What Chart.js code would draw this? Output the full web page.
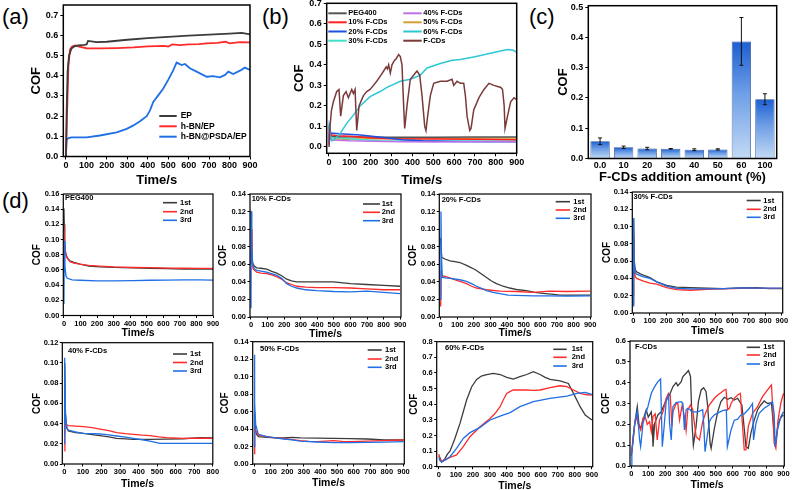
<!DOCTYPE html>
<html><head><meta charset="utf-8">
<script src="https://cdn.jsdelivr.net/npm/chart.js@4.4.1/dist/chart.umd.min.js"></script>
<style>
html,body{margin:0;padding:0;background:#fff;}
body{width:793px;height:490px;position:relative;overflow:hidden;font-family:'Liberation Sans',Arial,sans-serif;}
canvas{position:absolute;}
.lab{position:absolute;font-size:22px;line-height:22px;color:#000;font-family:'Liberation Sans',Arial,sans-serif;}
</style></head>
<body>
<div class="lab" style="left:2px;top:6px">(a)</div>
<div class="lab" style="left:262px;top:6px">(b)</div>
<div class="lab" style="left:529px;top:6px">(c)</div>
<div class="lab" style="left:2px;top:190px">(d)</div>
<script>
// ---------------- DATA ----------------
// tick values
const t_time900 = [0,100,200,300,400,500,600,700,800,900];
const t_time800 = [0,100,200,300,400,500,600,700,800];
const t_cof07 = [0,0.1,0.2,0.3,0.4,0.5,0.6,0.7];
const t_cof05 = [0,0.1,0.2,0.3,0.4,0.5];
const t_cof016 = [0,0.02,0.04,0.06,0.08,0.10,0.12,0.14,0.16];
const t_cof014 = [0,0.02,0.04,0.06,0.08,0.10,0.12,0.14];
const t_cof012 = [0,0.02,0.04,0.06,0.08,0.10,0.12];
const t_cof08 = [0,0.1,0.2,0.3,0.4,0.5,0.6,0.7,0.8];
const t_cof06 = [0,0.1,0.2,0.3,0.4,0.5,0.6];

// (a)  [time s, COF]
const a_EP = [[0,0],[3,0.2],[8,0.42],[15,0.5],[27,0.535],[40,0.545],[60,0.55],[90,0.553],[101,0.555],[108,0.572],[150,0.566],[200,0.568],[300,0.578],[400,0.586],[500,0.592],[600,0.598],[700,0.603],[800,0.608],[860,0.612],[900,0.605]];
const a_hBN = [[0,0],[5,0.2],[12,0.45],[20,0.53],[30,0.545],[45,0.55],[60,0.545],[100,0.536],[166,0.535],[250,0.537],[330,0.54],[400,0.545],[480,0.548],[500,0.544],[520,0.555],[558,0.551],[600,0.555],[650,0.556],[688,0.56],[740,0.562],[780,0.568],[800,0.56],[850,0.566],[900,0.565]];
const a_hBNPSDA = [[0,0],[3,0.08],[10,0.09],[27,0.095],[101,0.095],[166,0.104],[248,0.12],[297,0.137],[330,0.154],[362,0.175],[395,0.2],[411,0.228],[427,0.27],[452,0.304],[476,0.337],[500,0.379],[525,0.428],[541,0.465],[566,0.453],[582,0.458],[606,0.437],[639,0.42],[688,0.395],[720,0.398],[753,0.392],[778,0.404],[794,0.42],[818,0.408],[851,0.425],[875,0.44],[900,0.428]];

// (b)
const b_PEG400 = [[0,0.10],[5,0.07],[15,0.052],[50,0.05],[150,0.048],[300,0.047],[500,0.047],[700,0.048],[900,0.048]];
const b_10 = [[0,0.04],[3,0.08],[10,0.06],[40,0.055],[100,0.052],[150,0.048],[230,0.042],[300,0.04],[500,0.039],[700,0.037],[900,0.035]];
const b_20 = [[0,0.02],[2,0.1],[8,0.068],[50,0.064],[150,0.058],[250,0.047],[350,0.035],[450,0.03],[600,0.027],[750,0.025],[900,0.025]];
const b_30 = [[0,0.01],[2,0.11],[10,0.048],[60,0.044],[140,0.036],[250,0.03],[400,0.028],[600,0.029],[900,0.029]];
const b_40 = [[0,0.015],[2,0.1],[10,0.034],[100,0.03],[200,0.028],[350,0.025],[500,0.024],[650,0.025],[800,0.026],[900,0.025]];
const b_50 = [[0,0.012],[2,0.06],[10,0.04],[80,0.038],[200,0.04],[400,0.041],[600,0.042],[800,0.043],[900,0.043]];
const b_60 = [[0,0.107],[5,0.06],[13,0.03],[30,0.04],[53,0.065],[85,0.115],[117,0.155],[149,0.2],[197,0.245],[245,0.27],[278,0.29],[342,0.32],[390,0.33],[438,0.35],[470,0.385],[530,0.405],[590,0.422],[630,0.426],[700,0.44],[790,0.46],[855,0.475],[880,0.472],[900,0.462]];
const b_FCD = [[0,0.0],[5,0.1],[12,0.18],[21,0.22],[37,0.27],[48,0.28],[56,0.15],[69,0.25],[82,0.27],[93,0.24],[109,0.28],[117,0.26],[125,0.28],[133,0.08],[144,0.2],[165,0.25],[181,0.27],[197,0.28],[213,0.30],[229,0.32],[249,0.35],[262,0.37],[274,0.39],[280,0.38],[286,0.40],[294,0.36],[302,0.40],[313,0.42],[322,0.43],[334,0.45],[342,0.44],[350,0.40],[358,0.2],[363,0.09],[374,0.2],[390,0.33],[414,0.36],[422,0.37],[435,0.35],[446,0.25],[459,0.1],[465,0.08],[473,0.15],[486,0.25],[502,0.31],[534,0.32],[566,0.32],[590,0.33],[598,0.30],[614,0.32],[630,0.31],[646,0.31],[654,0.25],[662,0.15],[675,0.08],[681,0.09],[694,0.18],[719,0.24],[743,0.28],[767,0.31],[791,0.30],[824,0.29],[832,0.28],[840,0.2],[844,0.09],[856,0.15],[871,0.22],[887,0.24],[900,0.23]];

// (c)
const c_labels = ['0.0','10','20','30','40','50','60','100'];
const c_values = [0.057,0.037,0.033,0.032,0.029,0.030,0.387,0.196];
const c_errors = [0.011,0.004,0.004,0.001,0.003,0.002,0.079,0.018];

// (d) runs 1st / 2nd / 3rd
const d_PEG400_1 = [[0,0.141],[2,0.12],[5,0.095],[10,0.082],[20,0.076],[36,0.072],[60,0.07],[97,0.0676],[150,0.065],[217,0.064],[300,0.0635],[418,0.0627],[520,0.0622],[620,0.0619],[720,0.0612],[821,0.061],[900,0.061]];
const d_PEG400_2 = [[0,0.119],[3,0.1],[8,0.085],[15,0.077],[36,0.0707],[60,0.069],[97,0.0676],[150,0.066],[217,0.065],[300,0.064],[418,0.0632],[520,0.063],[620,0.0625],[720,0.0622],[821,0.062],[900,0.062]];
const d_PEG400_3 = [[0,0.015],[2,0.098],[6,0.065],[12,0.052],[20,0.049],[50,0.047],[97,0.0464],[200,0.0455],[300,0.0455],[418,0.046],[520,0.0464],[620,0.0465],[720,0.047],[821,0.047],[900,0.0465]];

const d_10_1 = [[0,0.121],[3,0.09],[8,0.062],[20,0.058],[34,0.056],[60,0.0555],[95,0.0545],[125,0.052],[155,0.05],[185,0.047],[215,0.043],[245,0.041],[276,0.04],[350,0.04],[420,0.04],[497,0.04],[600,0.038],[698,0.037],[800,0.036],[900,0.035]];
const d_10_2 = [[0,0.06],[3,0.1],[6,0.07],[12,0.055],[34,0.051],[60,0.05],[95,0.0495],[125,0.048],[155,0.046],[185,0.043],[215,0.039],[245,0.037],[276,0.035],[330,0.034],[397,0.0335],[500,0.0335],[600,0.033],[700,0.032],[800,0.031],[900,0.031]];
const d_10_3 = [[0,0.01],[2,0.12],[5,0.08],[10,0.06],[20,0.055],[34,0.053],[95,0.051],[155,0.0475],[185,0.044],[215,0.038],[245,0.035],[276,0.033],[330,0.031],[397,0.03],[500,0.029],[600,0.0285],[700,0.0295],[800,0.028],[900,0.0267]];

const d_20_1 = [[0,0.09],[4,0.072],[6,0.068],[26,0.066],[56,0.064],[86,0.063],[116,0.062],[156,0.0587],[186,0.056],[216,0.053],[246,0.049],[276,0.045],[306,0.041],[336,0.038],[376,0.035],[416,0.033],[466,0.031],[516,0.03],[566,0.028],[616,0.027],[666,0.026],[716,0.025],[800,0.025],[900,0.025]];
const d_20_2 = [[0,0.012],[3,0.05],[10,0.047],[56,0.0445],[96,0.0417],[126,0.04],[156,0.038],[186,0.035],[216,0.033],[246,0.032],[276,0.031],[356,0.0295],[456,0.029],[556,0.028],[656,0.0295],[756,0.029],[900,0.0295]];
const d_20_3 = [[0,0.02],[2,0.12],[5,0.07],[10,0.045],[30,0.0445],[56,0.044],[116,0.0424],[156,0.0405],[186,0.038],[216,0.035],[246,0.0325],[276,0.03],[316,0.028],[356,0.0265],[406,0.025],[456,0.0246],[556,0.024],[656,0.024],[756,0.0238],[900,0.024]];

const d_30_1 = [[0,0.01],[2,0.11],[6,0.06],[12,0.05],[20,0.0476],[40,0.0455],[61,0.0437],[101,0.041],[142,0.036],[172,0.034],[202,0.032],[260,0.03],[344,0.0294],[446,0.0288],[546,0.0283],[650,0.029],[748,0.0294],[820,0.0283],[900,0.0283]];
const d_30_2 = [[0,0.02],[2,0.09],[6,0.05],[12,0.042],[20,0.04],[61,0.0368],[101,0.0345],[142,0.0333],[202,0.0294],[263,0.027],[344,0.0263],[446,0.0275],[546,0.028],[650,0.0286],[748,0.0286],[900,0.0286]];
const d_30_3 = [[0,0.008],[2,0.11],[6,0.055],[12,0.047],[20,0.045],[61,0.0418],[101,0.04],[142,0.036],[202,0.031],[263,0.0286],[344,0.028],[446,0.028],[546,0.0283],[650,0.029],[748,0.0288],[900,0.0288]];

const d_40_1 = [[0,0.03],[2,0.1],[6,0.05],[12,0.036],[21,0.0326],[60,0.031],[102,0.0303],[150,0.029],[192,0.028],[240,0.0268],[282,0.0254],[330,0.0248],[372,0.0244],[461,0.0244],[551,0.0247],[641,0.025],[731,0.026],[800,0.0257]];
const d_40_2 = [[0,0.013],[3,0.035],[6,0.042],[12,0.039],[21,0.038],[60,0.0375],[102,0.037],[150,0.036],[192,0.0346],[240,0.033],[282,0.031],[330,0.03],[372,0.0293],[420,0.0285],[461,0.028],[510,0.0268],[551,0.026],[641,0.0254],[731,0.0256],[800,0.0254]];
const d_40_3 = [[0,0.02],[2,0.105],[6,0.05],[12,0.037],[21,0.0336],[60,0.0318],[102,0.0303],[150,0.03],[192,0.0297],[240,0.0288],[282,0.0277],[330,0.0265],[372,0.0254],[420,0.024],[461,0.0227],[515,0.0204],[600,0.0204],[700,0.0204],[800,0.0204]];

const d_50_1 = [[0,0.02],[3,0.06],[8,0.04],[15,0.034],[26,0.0313],[77,0.0305],[130,0.03],[178,0.03],[230,0.0305],[278,0.03],[380,0.0297],[480,0.0294],[580,0.029],[682,0.0286],[783,0.0275],[900,0.0275]];
const d_50_2 = [[0,0.012],[4,0.042],[10,0.038],[26,0.033],[77,0.0313],[130,0.03],[178,0.0294],[230,0.028],[278,0.0267],[330,0.026],[380,0.0256],[430,0.0262],[480,0.0267],[530,0.026],[581,0.0256],[682,0.0263],[783,0.0267],[900,0.0275]];
const d_50_3 = [[0,0.02],[2,0.125],[5,0.07],[10,0.045],[26,0.034],[77,0.0313],[130,0.03],[178,0.0286],[230,0.0275],[278,0.0263],[380,0.0252],[480,0.0244],[580,0.0244],[682,0.0248],[783,0.025],[900,0.0256]];

const d_60_1 = [[0,0.07],[5,0.06],[16,0.03],[35,0.05],[50,0.08],[65,0.1],[80,0.14],[94,0.181],[124,0.277],[143,0.35],[163,0.427],[193,0.512],[222,0.559],[250,0.58],[281,0.59],[320,0.597],[360,0.59],[399,0.572],[438,0.561],[477,0.576],[517,0.59],[556,0.608],[595,0.59],[625,0.572],[654,0.559],[713,0.55],[762,0.533],[792,0.469],[831,0.384],[861,0.33],[900,0.299]];
const d_60_2 = [[0,0.08],[5,0.05],[16,0.035],[40,0.045],[65,0.06],[104,0.075],[143,0.128],[183,0.192],[242,0.256],[301,0.309],[330,0.34],[360,0.384],[380,0.43],[399,0.469],[420,0.482],[438,0.491],[517,0.491],[556,0.488],[595,0.491],[654,0.506],[713,0.518],[753,0.512],[792,0.491],[831,0.469],[861,0.462],[900,0.458]];
const d_60_3 = [[0,0.06],[5,0.04],[16,0.03],[40,0.045],[65,0.064],[104,0.117],[143,0.181],[183,0.218],[242,0.252],[301,0.299],[360,0.324],[419,0.346],[477,0.384],[556,0.416],[654,0.437],[753,0.452],[812,0.469],[861,0.476],[900,0.463]];

const d_FCD_1 = [[0,0.05],[10,0.12],[20,0.205],[35,0.285],[45,0.2],[55,0.18],[69,0.22],[88,0.27],[100,0.235],[118,0.26],[124,0.2],[128,0.093],[138,0.205],[157,0.245],[177,0.26],[206,0.317],[226,0.341],[246,0.381],[265,0.4],[275,0.385],[295,0.405],[305,0.429],[324,0.445],[338,0.458],[350,0.43],[360,0.19],[367,0.1],[383,0.19],[397,0.31],[413,0.365],[428,0.376],[442,0.357],[452,0.285],[466,0.109],[472,0.085],[491,0.18],[511,0.26],[530,0.309],[550,0.33],[570,0.32],[590,0.328],[609,0.317],[629,0.325],[648,0.3],[654,0.293],[668,0.18],[678,0.093],[692,0.085],[707,0.157],[727,0.22],[747,0.27],[766,0.293],[786,0.312],[806,0.3],[829,0.304],[841,0.19],[849,0.125],[855,0.117],[868,0.205],[888,0.237],[900,0.245]];
const d_FCD_2 = [[0,0.06],[10,0.12],[20,0.205],[29,0.237],[39,0.205],[55,0.173],[69,0.229],[83,0.234],[94,0.2],[108,0.213],[118,0.165],[128,0.237],[141,0.25],[153,0.125],[167,0.22],[187,0.26],[206,0.325],[220,0.349],[230,0.341],[240,0.19],[246,0.26],[265,0.3],[275,0.3],[285,0.22],[301,0.293],[314,0.237],[324,0.17],[334,0.27],[350,0.293],[363,0.27],[383,0.141],[403,0.125],[422,0.213],[442,0.26],[462,0.293],[491,0.325],[511,0.341],[530,0.352],[550,0.365],[560,0.368],[570,0.27],[580,0.277],[590,0.3],[609,0.325],[629,0.341],[645,0.349],[654,0.237],[668,0.077],[678,0.077],[692,0.19],[717,0.253],[747,0.285],[776,0.333],[806,0.365],[829,0.389],[837,0.27],[845,0.109],[855,0.085],[868,0.22],[884,0.3],[900,0.349]];
const d_FCD_3 = [[0,0.0],[3,0.06],[10,0.141],[24,0.22],[35,0.26],[49,0.125],[55,0.093],[69,0.205],[88,0.26],[98,0.285],[118,0.349],[138,0.381],[157,0.405],[173,0.418],[183,0.093],[193,0.18],[206,0.309],[220,0.341],[226,0.205],[236,0.125],[246,0.285],[265,0.304],[295,0.309],[305,0.3],[314,0.173],[324,0.27],[334,0.277],[348,0.27],[358,0.26],[393,0.26],[422,0.27],[428,0.205],[436,0.069],[446,0.125],[462,0.213],[472,0.229],[491,0.245],[501,0.25],[540,0.266],[562,0.27],[568,0.093],[590,0.173],[609,0.22],[629,0.225],[648,0.245],[668,0.25],[698,0.277],[717,0.3],[723,0.125],[737,0.205],[756,0.253],[786,0.277],[815,0.293],[835,0.309],[845,0.25],[851,0.093],[865,0.173],[884,0.237],[900,0.26]];

// ---------------- RENDERING ----------------
const FONT = "'Liberation Sans', Arial, Helvetica, sans-serif";
Chart.defaults.font.family = FONT;
Chart.defaults.color = '#000';
Chart.defaults.animation = false;

const GRAY = '#3c3c3c', RED = '#ff2b2b', BLUE = '#1f6fe5';

function place(box) {
  const padT = box.padT ?? 8, padR = box.padR ?? 12;
  const left = Math.round(box.L - box.W), top = Math.round(box.T - padT);
  const Wp = box.L - left, padTp = box.T - top;
  const width = Math.ceil(Wp + (box.R - box.L) + padR);
  const height = Math.ceil(padTp + (box.B - box.T) + box.H);
  const Hp = height - padTp - (box.B - box.T);
  const padRp = width - Wp - (box.R - box.L);
  const c = document.createElement('canvas');
  c.width = width; c.height = height;
  c.style.left = left + 'px'; c.style.top = top + 'px';
  c.style.width = width + 'px'; c.style.height = height + 'px';
  document.body.appendChild(c);
  return {c, left, top, Wp, Hp, padTp, padRp};
}

function framePlugin(g, lw, texts, key, keyFont, keyLw) {
  return {
    id: 'frameKey',
    afterDatasetsDraw(chart) {
      const ctx = chart.ctx, a = chart.chartArea;
      ctx.save();
      ctx.textBaseline = 'middle'; ctx.textAlign = 'left'; ctx.fillStyle = '#000';
      (texts || []).forEach(t => {
        ctx.font = `bold ${t.size}px ${FONT}`;
        ctx.fillText(t.text, t.x - g.left, t.y - g.top);
      });
      (key || []).forEach(k => {
        const ds = chart.data.datasets[k.i];
        ctx.strokeStyle = ds.borderColor; ctx.lineWidth = keyLw;
        ctx.beginPath(); ctx.moveTo(k.x1 - g.left, k.y - g.top); ctx.lineTo(k.x2 - g.left, k.y - g.top); ctx.stroke();
        ctx.font = `bold ${keyFont}px ${FONT}`; ctx.fillStyle = '#000';
        ctx.fillText(ds.label, k.tx - g.left, k.y - g.top);
      });
      ctx.lineWidth = lw; ctx.strokeStyle = '#000';
      ctx.strokeRect(a.left, a.top, a.right - a.left, a.bottom - a.top);
      ctx.restore();
    }
  };
}

function linPanel(s) {
  const g = place(s.box);
  const datasets = s.series.map((se, i) => ({
    label: se.label, data: se.data, borderColor: se.color, backgroundColor: se.color,
    borderWidth: s.lw, pointRadius: 0, tension: 0, fill: false, order: se.order ?? i
  }));
  new Chart(g.c, {
    type: 'line',
    data: {datasets},
    options: {
      responsive: false, animation: false, devicePixelRatio: 1,
      layout: {padding: {top: g.padTp, right: g.padRp, left: 0, bottom: 0}},
      plugins: {legend: {display: false}, tooltip: {enabled: false}},
      scales: {
        x: {
          type: 'linear', min: s.x[0], max: s.x[1],
          ticks: {autoSkip: false, maxRotation: 0, padding: s.tpad ?? 1,
                  font: {size: s.tick, weight: 'bold'}, color: '#000', callback: v => String(Math.round(v))},
          grid: {display: true, drawOnChartArea: false, drawTicks: true, tickLength: s.tl, color: '#000', lineWidth: 1},
          border: {display: false},
          title: {display: true, text: 'Time/s', font: {size: s.xt, weight: 'bold'}, color: '#000', padding: 0},
          afterBuildTicks: sc => { sc.ticks = s.xticks.map(v => ({value: v})); },
          afterFit: sc => { sc.height = g.Hp; }
        },
        y: {
          type: 'linear', min: s.y[0], max: s.y[1],
          ticks: {autoSkip: false, padding: s.tpadY ?? 1.5,
                  font: {size: s.tick, weight: 'bold'}, color: '#000', callback: v => v.toFixed(s.y[2])},
          grid: {display: true, drawOnChartArea: false, drawTicks: true, tickLength: s.tl, color: '#000', lineWidth: 1},
          border: {display: false},
          title: {display: true, text: 'COF', font: {size: s.yt, weight: 'bold'}, color: '#000', padding: 0},
          afterBuildTicks: sc => { sc.ticks = s.yticks.map(v => ({value: v})); },
          afterFit: sc => { sc.width = g.Wp; }
        }
      }
    },
    plugins: [framePlugin(g, s.frame, s.texts, s.key, s.keyFont, s.keyLw)]
  });
}

// (a)
linPanel({
  box: {L: 63.3, T: 5, R: 250, B: 156.5, W: 34.4, H: 31},
  x: [-13, 900], xticks: t_time900, y: [0, 0.75, 1], yticks: t_cof07,
  tick: 9, tl: 3, tpad: 1, tpadY: 2, xt: 13, yt: 13, lw: 1.8, frame: 1.5,
  series: [
    {label: 'EP', data: a_EP, color: GRAY},
    {label: 'h-BN/EP', data: a_hBN, color: RED},
    {label: 'h-BN@PSDA/EP', data: a_hBNPSDA, color: BLUE}
  ],
  key: [{i: 0, x1: 159.3, x2: 176.7, tx: 180.7, y: 116}, {i: 1, x1: 159.3, x2: 176.7, tx: 180.7, y: 126.3}, {i: 2, x1: 159.3, x2: 176.7, tx: 180.7, y: 136.7}],
  keyFont: 8.5, keyLw: 2
});

// (b)
const bx1 = [328.3, 346.7, 348.3], bx2 = [403.3, 421.7, 423.3], by = [13.3, 22.3, 31.5, 40.7];
linPanel({
  box: {L: 326.7, T: 3.3, R: 516.7, B: 153.3, W: 34.5, H: 34.5},
  x: [-11, 900], xticks: t_time900, y: [-0.031, 0.7, 1], yticks: t_cof07,
  tick: 9, tl: 3, tpad: 1, tpadY: 2, xt: 13, yt: 13, lw: 1.5, frame: 1.5,
  series: [
    {label: 'PEG400', data: b_PEG400, color: '#555555', order: 5},
    {label: '10% F-CDs', data: b_10, color: '#ff2020', order: 4},
    {label: '20% F-CDs', data: b_20, color: '#2050e0', order: 3},
    {label: '30% F-CDs', data: b_30, color: '#40e0c8', order: 6},
    {label: '40% F-CDs', data: b_40, color: '#c070e8', order: 2},
    {label: '50% F-CDs', data: b_50, color: '#d0a030', order: 7},
    {label: '60% F-CDs', data: b_60, color: '#2cc8d4', order: 1},
    {label: 'F-CDs', data: b_FCD, color: '#7a3a3a', order: 0}
  ],
  key: [0,1,2,3].map(r => ({i: r, x1: bx1[0], x2: bx1[1], tx: bx1[2], y: by[r]}))
       .concat([0,1,2,3].map(r => ({i: r + 4, x1: bx2[0], x2: bx2[1], tx: bx2[2], y: by[r]}))),
  keyFont: 7.5, keyLw: 2
});

// (c)
(function () {
  const g = place({L: 588.3, T: 5.7, R: 776.7, B: 158.5, W: 32.8, H: 26.2});
  const errPlugin = {
    id: 'errbars',
    afterDatasetsDraw(chart) {
      const ctx = chart.ctx, ys = chart.scales.y, meta = chart.getDatasetMeta(0);
      ctx.save(); ctx.strokeStyle = '#111'; ctx.lineWidth = 1;
      meta.data.forEach((el, i) => {
        const x = el.x, t = ys.getPixelForValue(c_values[i] + c_errors[i]), b = ys.getPixelForValue(c_values[i] - c_errors[i]);
        ctx.beginPath();
        ctx.moveTo(x, t); ctx.lineTo(x, b);
        ctx.moveTo(x - 2, t); ctx.lineTo(x + 2, t);
        ctx.moveTo(x - 2, b); ctx.lineTo(x + 2, b);
        ctx.stroke();
      });
      ctx.restore();
    }
  };
  new Chart(g.c, {
    type: 'bar',
    data: {labels: c_labels, datasets: [{
      data: c_values, borderColor: '#2b4f8f', borderWidth: 0.8, barPercentage: 0.82, categoryPercentage: 1,
      backgroundColor: (ctx) => {
        const ch = ctx.chart, ys = ch.scales && ch.scales.y;
        if (!ys || ctx.type !== 'data' || !ch.chartArea) return '#4a80dd';
        const top = ys.getPixelForValue(ctx.parsed.y), bot = ys.getPixelForValue(0);
        if (!isFinite(top) || !isFinite(bot) || bot - top < 1) return '#4a80dd';
        const gr = ch.ctx.createLinearGradient(0, top, 0, bot);
        gr.addColorStop(0, '#1c5fd2'); gr.addColorStop(0.45, '#6f9fe6'); gr.addColorStop(1, '#c3daf5');
        return gr;
      }
    }]},
    options: {
      responsive: false, animation: false, devicePixelRatio: 1,
      layout: {padding: {top: g.padTp, right: g.padRp, left: 0, bottom: 0}},
      plugins: {legend: {display: false}, tooltip: {enabled: false}},
      scales: {
        x: {
          type: 'category', offset: true,
          ticks: {autoSkip: false, maxRotation: 0, padding: 1.5, font: {size: 9, weight: 'bold'}, color: '#000'},
          grid: {display: false, drawTicks: false, tickLength: 0}, border: {display: false},
          title: {display: true, text: 'F-CDs addition amount (%)', font: {size: 13, weight: 'bold'}, color: '#000', padding: 0},
          afterFit: sc => { sc.height = g.Hp; }
        },
        y: {
          type: 'linear', min: 0, max: 0.505,
          ticks: {padding: 2, font: {size: 9, weight: 'bold'}, color: '#000', callback: v => v.toFixed(1)},
          grid: {display: true, drawOnChartArea: false, drawTicks: true, tickLength: 3, color: '#000'},
          border: {display: false},
          title: {display: true, text: 'COF', font: {size: 13, weight: 'bold'}, color: '#000', padding: 0},
          afterBuildTicks: sc => { sc.ticks = t_cof05.map(v => ({value: v})); },
          afterFit: sc => { sc.width = g.Wp; }
        }
      }
    },
    plugins: [framePlugin(g, 1.5, [], [], 8, 1), errPlugin]
  });
})();

// (d) small panels
function dPanel(box, xr, xt, yr, yt, runs, title, tpos, kx, ky) {
  linPanel({
    box, x: xr, xticks: xt, y: yr, yticks: yt,
    tick: 7.5, tl: 2.5, tpad: 1, tpadY: 1.5, xt: 10.5, yt: 10, lw: 1.3, frame: 1.2,
    series: [
      {label: '1st', data: runs[0], color: GRAY, order: 3},
      {label: '2nd', data: runs[1], color: RED, order: 2},
      {label: '3rd', data: runs[2], color: BLUE, order: 1}
    ],
    texts: [{text: title, x: tpos[0], y: tpos[1], size: 7.5}],
    key: ky.map((y, i) => ({i, x1: kx[0], x2: kx[1], tx: kx[2], y})),
    keyFont: 7.5, keyLw: 1.6
  });
}

dPanel({L: 63.3, T: 194, R: 213, B: 315.5, W: 32.6, H: 23.5}, [-4, 900], t_time900, [0, 0.16, 2], t_cof016,
  [d_PEG400_1, d_PEG400_2, d_PEG400_3], 'PEG400', [65, 197.5], [163, 177, 180], [202.7, 211.7, 220.3]);
dPanel({L: 250, T: 194, R: 401, B: 317, W: 33.3, H: 22.9}, [-6, 905], t_time900, [0, 0.14, 2], t_cof014,
  [d_10_1, d_10_2, d_10_3], '10% F-CDs', [251.7, 199], [363, 380, 381.7], [204, 212.3, 220.7]);
dPanel({L: 439.3, T: 194, R: 591, B: 317, W: 32, H: 21.3}, [-8, 905], t_time900, [0, 0.14, 2], t_cof014,
  [d_20_1, d_20_2, d_20_3], '20% F-CDs', [441.7, 200], [555.7, 570, 573.3], [201.7, 210, 218.3]);
dPanel({L: 632.3, T: 192, R: 782.7, B: 313, W: 31.6, H: 23.6}, [-6, 905], t_time900, [0, 0.14, 2], t_cof014,
  [d_30_1, d_30_2, d_30_3], '30% F-CDs', [633.5, 197], [746.7, 760.7, 763.3], [200.5, 209.3, 217.3]);

dPanel({L: 62.3, T: 342.7, R: 212.8, B: 464, W: 31, H: 25.9}, [-11, 800], t_time800, [0, 0.12, 2], t_cof012,
  [d_40_1, d_40_2, d_40_3], '40% F-CDs', [68, 350.7], [173, 187, 190], [354, 362.5, 371]);
dPanel({L: 252.7, T: 341.7, R: 404.3, B: 464, W: 33.7, H: 24.3}, [-8, 905], t_time900, [0, 0.14, 2], t_cof014,
  [d_50_1, d_50_2, d_50_3], '50% F-CDs', [260, 349], [367.7, 381.7, 385], [350, 359, 367.3]);
dPanel({L: 436.7, T: 341.7, R: 592.7, B: 466.7, W: 28.7, H: 24.9}, [-13, 905], t_time900, [0, 0.8, 1], t_cof08,
  [d_60_1, d_60_2, d_60_3], '60% F-CDs', [445, 348], [553.3, 566.7, 571.7], [349.3, 357.3, 366]);
dPanel({L: 630, T: 341, R: 784.3, B: 466, W: 30, H: 24.6}, [-8, 905], t_time900, [0, 0.6, 1], t_cof06,
  [d_FCD_1, d_FCD_2, d_FCD_3], 'F-CDs', [635, 347.3], [746.7, 760, 763.3], [347.3, 355, 364]);
</script>
</body></html>
